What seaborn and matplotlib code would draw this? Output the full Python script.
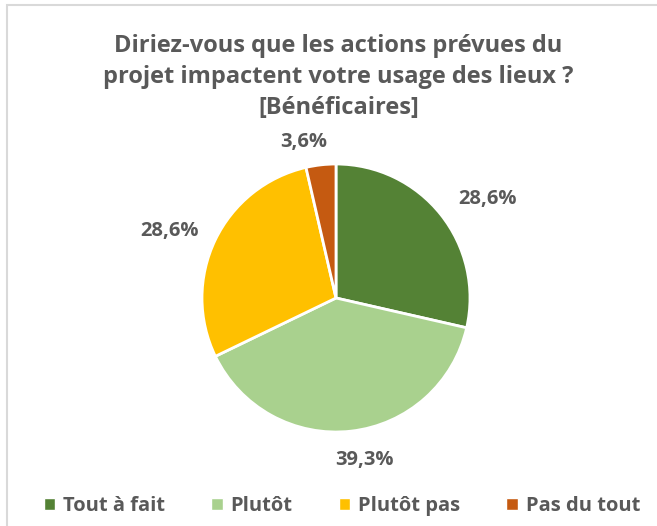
import matplotlib
matplotlib.use("Agg")
import matplotlib.pyplot as plt
import seaborn as sns
import numpy as np
from matplotlib.patches import Rectangle

categories = ["Tout à fait", "Plutôt", "Plutôt pas", "Pas du tout"]
values = [28.6, 39.3, 28.6, 3.6]
colors = ["#548235", "#A9D18E", "#FFC000", "#C55A11"]
title = "Diriez-vous que les actions prévues du\nprojet impactent votre usage des lieux ?\n[Bénéficaires]"

sns.set_theme(style="white")
plt.rcParams['font.family'] = ['Open Sans', 'DejaVu Sans']
txt = "#595959"

fig = plt.figure(figsize=(6.57, 5.26), dpi=100)
fig.patches.append(Rectangle((7/657, -0.1), 1.2, (526-5)/526 + 0.1, transform=fig.transFigure,
                             fill=False, edgecolor="#D9D9D9", linewidth=1.5))

r_px = 134
ax = fig.add_axes([(336 - r_px)/657, (228 - r_px)/526, 2*r_px/657, 2*r_px/526])
wedges, texts, autotexts = ax.pie(
    values, colors=colors, startangle=90, counterclock=False,
    wedgeprops=dict(edgecolor="white", linewidth=2),
    autopct=lambda p: f"{p:.1f}".replace(".", ",") + "%", pctdistance=1.27,
    textprops=dict(color=txt, fontsize=14.5, fontweight="bold"))
dists = [1.35, 1.23, 1.34, 1.19]
angs = [33, -80, 158, 101.6]
for t, d, a in zip(autotexts, dists, angs):
    t.set_position((d*np.cos(np.radians(a)), d*np.sin(np.radians(a))))
ax.set_aspect("equal")
ax.set_xlim(-1, 1); ax.set_ylim(-1, 1)

fig.text(0.515, 1 - 77/526, title, ha="center", va="center", color=txt,
         fontsize=17, fontweight="bold", linespacing=1.38)

handles = [Rectangle((0, 0), 1, 1, facecolor=c) for c in colors]
fig.legend(handles, categories, loc="center", bbox_to_anchor=(342/657, 1 - 506/526), ncol=4,
           frameon=False, handlelength=0.55, handleheight=0.55, handletextpad=0.4, columnspacing=2.3,
           prop=dict(size=14.5, weight="bold"), labelcolor=txt)

fig.savefig("out.png", dpi=100)
